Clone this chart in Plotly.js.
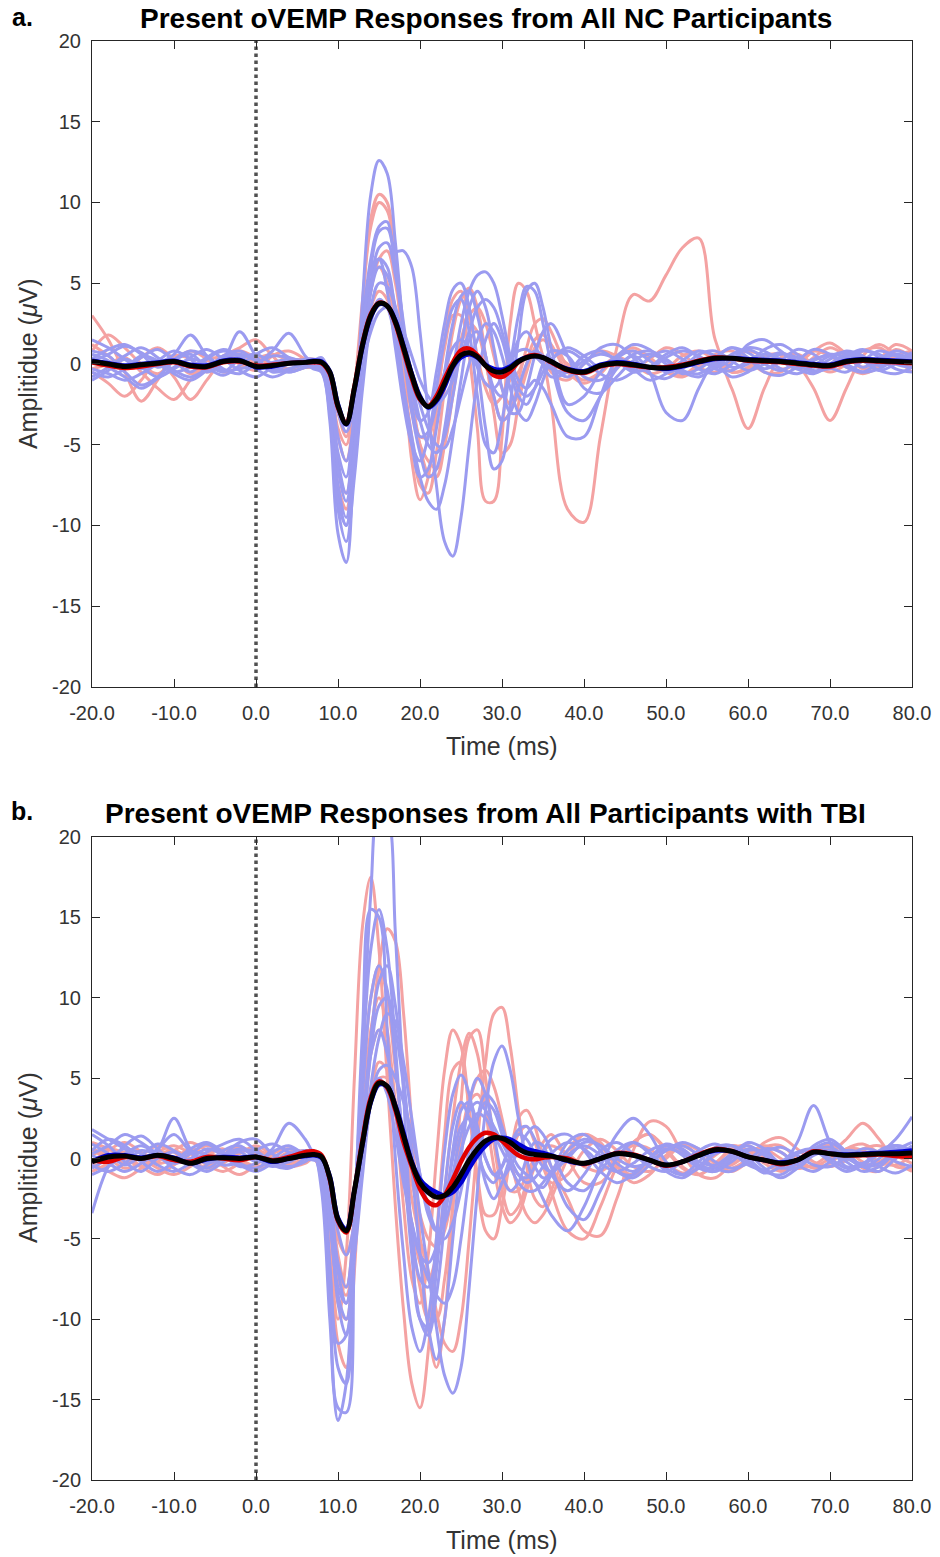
<!DOCTYPE html>
<html>
<head>
<meta charset="utf-8">
<script src="https://cdn.plot.ly/plotly-3.0.1.min.js"></script>
<style>html,body{margin:0;padding:0;background:#fff;}#chart{width:940px;height:1557px;}</style>
</head>
<body>
<div id="chart"></div>
<script>
// Time axis (ms)
const T = [-20,-18,-16,-14,-12,-10,-8,-6,-4,-2,0,2,4,6,
  7,8,9,10,11,12,13,14,15,16,17,18,19,20,21,22,23,24,25,26,27,28,29,30,31,32,33,34,35,36,
  38,40,42,44,46,48,50,52,54,56,58,60,62,64,66,68,70,72,74,76,78,80];

const xTickVals = [-20,-10,0,10,20,30,40,50,60,70,80];
const xTickText = ['-20.0','-10.0','0.0','10.0','20.0','30.0','40.0','50.0','60.0','70.0','80.0'];
const yTickVals = [-20,-15,-10,-5,0,5,10,15,20];
const yTickText = ['-20','-15','-10','-5','0','5','10','15','20'];
const stimX = [0,0];
const stimY = [-20,20];

// Panel a: NC participants, individual responses (light blue)
const ncBlue = [
 [0.8,0.5,-0.3,0.4,0.9,0.2,-0.5,0.3,0.8,0.4,-0.2,0.1,0.3,0.2,
  0.2,-0.2,-3.5,-10.5,-12.3,-5.0,4.0,10.5,12.6,11.8,7.5,2.0,-2.5,-4.5,-4.2,-2.5,-0.5,1.0,1.5,1.0,-0.2,-1.2,-1.5,-0.8,0.2,0.8,0.9,0.5,0.0,-0.3,
  -0.5,0.2,0.6,0.3,-0.4,-0.3,0.4,0.8,0.5,-0.2,0.3,1.0,0.8,0.2,-0.3,0.2,0.6,0.4,-0.2,0.3,0.8,0.5],
 [-0.5,-0.8,-0.3,0.5,0.2,-0.6,-1.0,-0.4,0.3,0.6,0.2,-0.3,-0.5,-0.2,
  0.0,0.3,-2.0,-7.5,-9.5,-4.0,2.5,6.5,8.5,8.8,7.0,7.0,6.0,2.0,-3.0,-7.5,-11.0,-11.9,-9.5,-5.0,-1.0,1.5,2.5,1.5,-0.5,-2.0,-2.5,-1.5,0.0,0.8,
  0.5,-0.8,-1.0,-0.2,0.6,0.8,0.3,-0.4,-0.6,0.0,0.5,0.3,-0.5,-0.7,-0.2,0.3,0.5,0.0,-0.5,-0.3,0.2,0.0],
 [0.3,0.9,1.2,0.6,-0.2,0.3,0.8,0.5,-0.3,-0.6,0.0,0.5,0.4,0.1,
  0.1,0.0,-1.5,-6.0,-8.0,-4.0,1.0,4.5,6.0,5.5,3.5,0.5,-3.0,-5.5,-7.0,-6.5,-4.0,-0.5,2.5,4.5,5.5,5.7,5.0,3.0,0.5,-1.0,-1.5,-1.0,-1.5,-2.5,
  -4.5,-4.5,-2.0,0.3,0.8,0.2,-0.5,-0.2,0.6,0.8,0.2,-0.4,0.0,0.6,0.4,-0.2,0.3,0.8,0.5,-0.1,0.3,0.6],
 [-1.0,-0.4,0.3,-0.2,-0.8,-0.3,0.4,0.9,0.3,-0.4,-0.8,-0.2,0.3,0.0,
  -0.3,-0.5,-2.5,-8.0,-10.0,-6.0,0.5,5.0,7.2,7.5,5.5,2.0,-1.5,-3.5,-3.0,-0.5,2.5,4.6,5.0,3.5,0.0,-4.0,-6.5,-6.0,-2.5,1.5,4.5,5.0,3.5,1.0,
  -2.5,-2.0,-0.5,0.4,-0.3,-1.0,-0.6,0.2,0.8,0.5,-0.2,0.0,0.9,1.2,0.6,-0.1,-0.3,0.3,0.8,0.6,0.0,-0.2],
 [0.6,0.2,-0.5,-1.3,-0.8,0.2,0.6,-0.2,-0.7,-0.1,0.6,1.0,0.4,-0.1,
  0.0,0.2,-1.0,-4.5,-6.0,-3.5,0.5,3.5,5.0,4.8,3.5,1.5,-0.5,-2.5,-4.0,-5.0,-5.2,-4.0,-2.0,0.0,1.5,2.5,2.0,0.5,-1.5,-3.0,-3.5,-2.5,-1.0,0.2,
  1.0,0.5,-0.2,0.5,1.2,0.9,0.0,-0.6,-0.3,0.4,1.0,0.7,0.0,-0.4,0.2,0.9,0.6,-0.2,-0.5,0.1,0.6,0.3],
 [1.5,1.0,0.3,-0.3,0.2,0.8,0.3,-0.5,0.2,2.0,0.5,-0.5,-0.3,0.0,
  0.2,0.4,-1.0,-6.5,-8.5,-5.0,0.0,4.5,6.5,6.0,3.0,-1.5,-5.0,-7.0,-6.5,-4.0,-0.5,2.5,4.2,4.5,3.0,0.5,-2.0,-3.5,-3.0,-1.5,0.0,0.8,0.5,-0.2,
  -0.8,0.0,1.0,1.2,0.4,-0.6,-0.9,-0.3,0.3,0.0,-0.8,-0.5,0.3,0.7,0.2,-0.4,-0.2,0.5,0.9,0.4,-0.3,-0.5],
 [-0.3,-0.6,-1.0,-0.6,0.0,0.6,1.8,0.5,-0.4,-0.3,0.0,0.8,1.9,0.5,
  0.0,-0.3,-1.0,-3.0,-4.2,-2.5,0.0,2.0,3.2,3.5,3.0,2.0,0.5,-1.0,-2.0,-2.5,-2.0,-1.0,0.5,2.0,3.5,4.0,3.5,2.0,0.0,-1.5,-2.0,-1.5,-0.5,0.3,
  0.8,0.2,-0.6,-1.0,-0.5,0.4,0.8,0.3,-0.3,-0.6,0.0,1.2,1.5,0.8,0.0,-0.5,-0.2,0.4,0.2,-0.4,0.0,0.5],
 [0.4,-0.2,-0.8,-1.5,-0.9,-0.2,0.3,0.0,-0.5,0.3,0.6,0.0,-0.5,-0.2,
  -0.2,-0.5,-3.0,-9.0,-11.0,-7.0,-1.5,2.5,4.0,3.5,1.5,-1.5,-4.5,-7.0,-8.5,-9.0,-7.5,-4.5,-1.0,1.5,2.0,0.5,-1.5,-2.0,0.0,3.0,4.8,4.5,2.5,0.0,
  -3.0,-3.5,-2.0,-0.3,0.5,-0.5,-3.0,-3.5,-1.5,0.3,1.0,0.4,-0.3,0.2,0.9,0.6,-0.2,-0.5,0.2,0.8,0.5,0.0],
 [-0.8,-0.2,0.5,1.0,0.4,-0.4,-0.8,-0.3,0.5,0.8,0.2,-0.4,0.0,0.3,
  0.3,0.1,-1.5,-5.5,-7.0,-3.0,2.0,6.0,8.2,8.4,6.0,2.5,-1.0,-3.5,-5.0,-5.5,-4.5,-2.0,1.0,3.5,4.5,3.5,1.0,-1.5,-3.0,-3.0,-1.5,0.5,2.0,2.5,
  0.5,-1.5,-1.8,-0.8,0.2,0.6,0.2,-0.5,-0.8,-0.2,0.6,0.9,0.4,-0.3,-0.6,-0.1,0.5,0.7,0.2,-0.4,-0.6,-0.2],
 [0.2,0.6,1.1,0.7,0.0,-0.5,-0.2,0.4,0.9,0.5,-0.3,-0.8,-0.4,0.2,
  0.1,-0.2,-2.8,-8.5,-10.0,-5.5,1.5,5.8,6.5,4.5,1.0,-2.5,-5.0,-6.0,-4.5,-1.5,1.5,3.5,4.0,2.0,-2.0,-5.0,-5.5,-3.5,-0.5,1.5,2.0,1.2,0.0,-0.8,
  -0.5,0.5,0.8,0.2,-0.5,-0.2,0.6,1.0,0.4,-0.3,-0.4,0.2,0.6,0.3,-0.3,-0.6,0.0,0.6,0.4,-0.1,0.2,0.7]
];

// Panel a: NC participants, individual responses (light red)
const ncRed = [
 [3.0,1.5,-0.5,-2.3,-1.0,0.5,0.3,-0.5,0.2,0.6,0.0,-0.3,0.2,0.3,
  0.3,0.0,-2.5,-7.5,-9.0,-4.0,3.5,9.0,10.5,10.0,6.0,0.0,-6.0,-8.4,-7.0,-3.0,1.5,4.0,4.5,3.0,0.5,-1.5,-2.5,-2.0,-1.0,-0.5,0.5,0.5,0.0,-2.5,
  -9.0,-9.8,-4.5,1.0,4.3,3.9,5.5,7.2,7.8,1.5,-0.5,-0.2,0.5,0.3,-0.3,0.4,1.0,0.5,-0.2,0.3,1.2,0.8],
 [-0.5,-1.2,-2.0,-1.0,0.2,-0.8,-2.2,-1.0,0.3,0.8,0.4,0.0,-0.3,0.0,
  0.2,0.0,-1.0,-4.0,-5.0,-1.5,4.0,8.5,10.0,9.5,6.5,2.0,-2.0,-4.5,-4.5,-2.0,1.0,3.0,3.0,0.5,-4.0,-8.5,-8.5,-4.5,2.5,5.0,4.5,2.5,0.5,-0.5,
  -1.0,0.0,0.8,0.5,-0.2,0.3,1.0,0.6,-0.2,-0.5,0.2,0.8,0.4,-0.3,0.0,0.8,1.3,0.6,-0.3,0.0,0.9,0.4],
 [1.2,0.5,-0.3,0.4,1.0,0.3,-0.6,-0.2,0.5,1.0,1.5,0.5,-0.4,-0.2,
  0.0,0.3,-0.5,-3.0,-4.5,-2.0,2.0,5.0,6.0,5.0,2.5,-1.0,-4.5,-7.5,-8.0,-5.5,-1.5,2.0,4.0,4.7,3.5,0.5,-3.0,-5.5,-5.0,-2.5,0.0,1.5,1.8,1.2,
  -0.5,-1.2,-0.6,0.5,1.0,0.4,-0.4,-0.7,0.0,0.5,-1.5,-4.0,-1.5,0.4,0.6,0.0,-0.5,0.0,0.8,1.0,0.3,-0.5],
 [-0.3,0.0,0.4,-0.5,-1.5,-2.2,-1.0,0.2,0.4,0.0,-0.4,0.5,0.8,0.3,
  0.0,-0.2,-1.2,-4.5,-6.0,-3.0,1.0,3.5,4.5,4.0,2.0,-0.5,-3.0,-5.0,-6.0,-6.5,-5.0,-2.0,1.0,2.5,2.0,0.0,-2.0,-3.5,-3.0,-1.0,1.0,2.5,2.8,2.0,
  -0.2,-1.0,-0.5,0.4,0.0,-0.6,-0.3,0.5,0.8,0.2,-0.5,-0.3,0.5,0.6,0.0,-1.5,-3.5,-1.5,0.5,1.2,0.6,0.0],
 [0.8,1.8,1.0,0.0,-0.6,0.2,0.8,0.3,-0.5,-0.2,0.3,0.6,0.2,-0.2,
  -0.2,-0.3,-2.0,-6.5,-8.0,-4.5,1.0,4.5,6.5,7.0,5.0,1.5,-2.0,-5.0,-6.8,-7.0,-5.0,-1.5,1.5,3.0,3.5,2.5,0.5,-1.5,-2.5,-2.0,-0.5,1.0,1.5,1.0,
  0.0,-0.6,-0.2,0.5,0.8,0.3,-0.5,-0.8,-0.2,0.6,0.8,0.2,-0.5,-0.5,0.2,0.8,0.5,-0.2,-0.6,-0.2,0.5,0.8]
];

// Panel a: grand means
const ncMeanRed = [0.1,-0.1,-0.25,-0.15,0.0,0.1,-0.15,-0.2,0.1,0.15,-0.1,-0.05,0.05,0.1,
  0.1,0.05,-0.6,-2.7,-3.6,-1.4,1.3,3.1,3.8,3.6,2.5,0.8,-0.9,-2.2,-2.6,-2.0,-0.9,0.1,0.85,0.95,0.55,-0.1,-0.7,-0.8,-0.45,0.1,0.45,0.55,0.4,0.1,
  -0.4,-0.55,-0.15,0.0,-0.1,-0.2,-0.2,-0.05,0.2,0.4,0.35,0.2,0.15,0.1,0.0,-0.1,-0.15,0.1,0.2,0.15,0.1,0.05];
const ncMeanBlue = [0.2,0.05,-0.1,0.0,0.1,0.2,-0.05,-0.1,0.2,0.25,-0.2,-0.15,0.05,0.1,
  0.2,0.15,-0.45,-2.5,-3.75,-1.6,1.1,2.9,3.7,3.6,2.7,1.1,-0.6,-2.0,-2.7,-2.3,-1.4,-0.2,0.4,0.6,0.4,-0.05,-0.3,-0.35,-0.15,0.2,0.4,0.5,0.4,0.15,
  -0.3,-0.45,-0.05,0.1,0.0,-0.2,-0.3,-0.15,0.1,0.3,0.35,0.3,0.25,0.2,0.1,0.0,-0.05,0.2,0.3,0.25,0.2,0.15];
const ncMeanAll = [0.15,0.0,-0.15,-0.05,0.05,0.15,-0.1,-0.15,0.15,0.2,-0.15,-0.1,0.05,0.1,
  0.15,0.1,-0.5,-2.6,-3.7,-1.5,1.2,3.0,3.75,3.6,2.6,1.0,-0.7,-2.1,-2.65,-2.2,-1.2,-0.1,0.55,0.7,0.45,-0.1,-0.45,-0.5,-0.25,0.15,0.4,0.5,0.4,0.15,
  -0.35,-0.5,-0.1,0.05,-0.05,-0.2,-0.25,-0.1,0.15,0.35,0.35,0.25,0.2,0.15,0.05,-0.05,-0.1,0.15,0.25,0.2,0.15,0.1];

// Panel b: participants with TBI, individual responses (light blue)
const tbiBlue = [
 [0.5,1.2,0.8,0.0,0.6,1.5,0.4,-0.3,0.2,1.0,1.2,0.3,-0.2,0.4,
  0.2,-1.0,-8.0,-15.5,-15.8,-6.0,6.0,16.5,22.0,21.5,14.0,4.0,-5.0,-10.0,-10.5,-7.0,-2.0,2.0,3.5,2.5,0.5,-1.0,-1.5,-0.5,0.8,1.5,1.2,0.3,-0.5,-0.8,
  0.0,1.0,0.8,-0.3,-0.8,0.0,0.9,0.5,-0.4,-0.6,0.2,1.0,0.6,-0.3,-0.2,0.8,1.2,0.4,-0.5,-0.3,0.5,1.0],
 [-1.0,-0.5,0.3,0.8,0.2,-0.6,-1.0,-0.4,0.5,0.8,0.0,-0.5,-0.2,0.3,
  0.5,-0.5,-6.5,-13.0,-14.0,-4.0,8.0,15.5,15.0,8.0,0.0,-6.0,-10.5,-12.0,-10.0,-5.0,0.5,4.0,5.2,4.0,1.0,-1.5,-2.5,-1.5,0.0,0.8,0.5,-0.5,-1.2,-1.0,
  0.2,0.8,0.2,-0.8,-1.2,-0.4,0.5,0.8,0.2,-0.6,-0.8,-0.1,0.6,0.4,-0.4,-0.8,-0.2,0.5,0.3,-0.5,-0.9,-0.4],
 [-3.4,-0.5,0.8,1.4,0.6,-0.2,0.3,0.9,0.2,-0.5,-0.3,0.4,0.8,0.2,
  0.0,-0.2,-3.0,-9.0,-11.0,-6.0,1.0,6.5,9.5,10.0,8.0,4.5,0.5,-3.5,-7.0,-10.5,-13.5,-14.6,-13.0,-8.0,-2.0,3.0,6.0,7.0,5.5,2.5,0.0,-1.5,-1.8,-1.0,
  1.0,1.5,0.5,-0.8,-1.0,0.0,0.8,0.6,-0.2,-0.4,0.3,0.8,0.2,-0.6,-0.3,0.5,0.7,0.1,-0.5,0.0,0.8,0.5],
 [1.5,0.8,-0.2,-0.8,0.0,0.4,-0.3,-0.8,-0.2,0.5,0.4,-0.4,-0.6,0.0,
  0.3,-2.0,-10.0,-16.3,-14.0,-5.0,4.0,10.0,12.0,10.5,6.0,0.5,-4.5,-7.5,-8.0,-6.0,-3.0,0.0,2.0,2.5,1.5,0.0,-1.0,-1.2,-0.5,0.5,1.5,2.0,1.5,0.5,
  -1.5,-2.0,-0.8,0.5,1.0,0.3,-0.8,-1.2,-0.5,0.4,0.8,0.3,-0.6,-1.2,-0.6,0.3,0.5,-0.2,-0.8,-0.5,0.3,0.6],
 [0.2,-0.3,-0.8,-0.3,0.5,2.5,0.6,-0.2,0.2,0.6,0.1,-0.4,0.2,0.5,
  0.4,0.0,-2.0,-6.5,-8.0,-4.0,2.0,6.5,8.0,6.5,3.0,-1.0,-4.0,-6.0,-6.5,-5.5,-3.5,-1.0,1.5,3.0,3.5,3.0,2.0,1.0,0.0,-1.0,-1.5,-1.2,-0.5,0.3,
  1.0,0.6,-0.3,-0.8,-0.3,0.5,0.8,0.2,-0.6,-0.8,-0.2,0.5,0.4,-0.3,1.0,3.3,1.0,-0.5,-0.3,0.4,0.8,0.4],
 [0.9,0.3,-0.4,0.2,0.9,0.5,-0.2,-0.6,0.0,0.4,-0.2,0.6,2.2,1.2,
  0.3,-0.3,-3.5,-8.5,-10.0,-5.5,1.5,7.5,11.0,12.0,9.5,5.0,-0.5,-6.0,-10.5,-12.5,-10.0,-5.0,0.0,3.5,5.0,4.0,1.5,-1.0,-2.0,-1.5,0.0,1.0,0.8,-0.5,
  -3.0,-3.8,-2.0,0.0,1.0,0.4,-0.6,-1.0,-0.2,0.7,0.8,0.0,-0.8,-1.0,-0.3,0.6,1.0,0.3,-0.5,-0.8,0.0,0.8],
 [1.8,1.2,0.6,-0.2,-0.8,-0.2,0.6,1.0,0.4,-0.3,-0.6,0.0,0.6,0.3,
  0.0,-0.4,-2.5,-7.0,-9.0,-6.0,-1.0,3.5,5.5,5.8,5.0,3.5,1.5,-1.0,-3.0,-4.5,-5.0,-4.0,-2.0,0.5,2.5,3.5,3.0,1.5,0.0,-1.0,-1.2,-0.5,0.5,1.2,
  1.5,0.5,-0.8,-1.5,-1.0,0.0,0.6,0.3,-0.5,-0.8,0.0,0.6,0.3,-0.5,-0.6,0.2,0.5,0.0,-0.3,0.3,1.2,2.6],
 [-0.6,0.0,0.6,0.3,-0.4,-0.8,-0.3,0.4,0.9,1.2,0.5,-0.2,-0.5,-0.2,
  0.2,-1.5,-7.0,-11.5,-11.0,-3.0,6.0,13.0,15.5,13.0,7.0,0.0,-6.0,-10.0,-11.0,-8.5,-4.0,0.5,3.0,3.5,2.0,0.0,-1.0,-0.5,0.8,1.8,2.0,1.2,0.0,-1.0,
  -2.0,-1.0,0.5,1.0,0.3,-0.5,-0.8,-0.2,0.5,0.9,0.4,-0.4,-0.7,-0.2,0.4,0.6,0.0,-0.6,-0.4,0.3,0.6,0.2],
 [0.3,0.8,1.5,1.0,0.3,0.0,0.4,0.2,-0.4,-0.2,0.5,0.9,0.4,0.0,
  -0.1,-0.3,-1.5,-4.5,-6.0,-4.0,0.5,4.5,7.5,9.0,8.5,6.0,2.5,-1.0,-3.5,-4.5,-4.0,-2.0,0.5,2.0,2.8,2.5,1.5,0.5,-0.5,-1.5,-2.0,-2.0,-1.5,-0.8,
  0.5,1.2,0.8,0.0,-0.5,-0.2,0.5,1.0,0.6,-0.2,-0.6,-0.3,0.4,0.7,0.2,-0.4,-0.5,0.1,0.6,0.4,-0.2,-0.5],
 [-0.4,-0.8,-0.3,0.5,0.2,-0.3,0.0,0.6,0.2,-0.4,-0.8,-0.3,0.3,0.4,
  0.2,-0.5,-4.0,-8.0,-9.0,-5.0,0.0,3.5,5.0,4.0,1.5,-1.5,-4.0,-6.0,-7.5,-8.5,-9.0,-8.0,-5.0,-1.0,2.5,4.0,3.5,2.0,0.5,-0.5,-1.0,-1.5,-2.5,-3.5,
  -4.5,-3.0,-0.5,1.5,2.5,1.5,-0.2,-1.0,-0.6,0.3,0.5,-0.2,-0.9,-0.5,0.3,0.5,-0.2,-0.8,-0.4,0.5,0.8,0.2]
];

// Panel b: participants with TBI, individual responses (light red)
const tbiRed = [
 [-0.8,-0.3,0.4,0.0,-0.6,-1.0,-0.5,0.2,0.6,0.0,-0.5,-0.2,0.3,0.5,
  0.3,-1.0,-6.0,-10.0,-6.0,5.0,14.5,17.5,13.0,5.0,-3.0,-9.5,-14.0,-15.5,-12.0,-5.0,1.5,5.5,6.0,3.0,-1.0,-3.5,-3.5,-2.0,0.0,1.5,2.0,1.0,-0.5,-1.5,
  -1.0,0.5,1.2,0.5,-0.5,-0.8,0.0,0.8,0.6,-0.3,-0.8,-0.2,0.7,0.8,0.0,-0.6,-0.3,0.6,0.9,0.3,-0.5,-0.6],
 [0.5,0.0,-0.6,-0.3,0.4,0.8,0.3,-0.4,-0.8,-0.3,0.4,0.2,-0.3,0.0,
  0.2,0.0,-2.0,-6.0,-8.0,-5.0,1.0,7.0,12.0,14.3,13.5,9.0,2.0,-5.0,-10.5,-13.0,-10.0,-3.0,3.5,7.5,8.0,5.0,1.0,-2.0,-3.5,-3.0,-1.5,0.0,1.0,1.5,
  0.0,-1.5,-1.5,-0.3,1.0,1.5,0.6,-0.5,-1.0,-0.3,0.5,0.8,0.2,-0.5,-0.4,0.3,0.8,0.5,-0.2,-0.5,0.2,0.6],
 [-0.2,0.5,1.0,0.4,-0.3,0.0,0.6,0.2,-0.5,-1.0,-0.4,0.3,0.6,0.2,
  0.0,-0.5,-4.0,-9.0,-10.0,-4.0,4.0,10.0,12.0,10.0,5.5,1.0,-2.5,-5.0,-7.0,-9.5,-11.5,-12.0,-10.0,-5.0,1.0,6.0,9.0,9.4,7.0,3.0,-0.5,-2.5,-3.0,-2.0,
  0.5,1.5,0.8,-0.5,-1.0,-0.3,0.5,0.8,0.2,-0.5,-0.4,0.3,0.8,0.4,-0.3,-0.5,0.0,0.6,0.5,-0.2,-0.4,0.2],
 [1.0,0.6,0.0,-0.5,-0.2,0.5,1.0,0.5,0.0,0.3,0.8,0.2,-0.5,-0.3,
  0.0,-1.0,-6.0,-11.5,-13.0,-7.0,2.0,8.0,10.0,8.0,3.0,-3.0,-7.5,-9.0,-6.0,0.0,5.5,8.0,7.0,3.0,-1.5,-4.5,-5.0,-3.0,0.0,2.5,3.0,2.0,0.0,-2.0,
  -4.5,-5.0,-3.0,-0.5,1.0,1.5,0.5,-0.6,-1.0,-0.3,0.6,0.8,0.0,-0.7,-0.5,0.4,0.9,0.3,-0.6,-0.8,0.0,0.7],
 [-0.3,-0.8,-1.2,-0.6,0.2,0.5,0.0,-0.6,-0.3,0.4,0.6,0.0,-0.4,0.0,
  0.1,-0.3,-3.0,-7.0,-8.0,-3.5,2.5,6.5,8.0,7.0,3.5,-1.0,-5.0,-8.0,-10.0,-10.0,-7.5,-3.0,1.0,3.5,4.0,3.0,1.0,-1.0,-2.0,-2.0,-1.0,0.0,0.3,-0.5,
  -2.5,-4.5,-4.8,-2.5,0.5,2.3,2.0,0.3,-1.0,-1.2,-0.3,0.5,0.6,0.0,-0.6,-0.4,0.3,1.2,2.2,1.2,-0.2,-0.8],
 [0.2,0.6,0.3,-0.5,-1.0,-0.4,0.3,0.8,0.4,-0.2,-0.6,-0.2,0.4,0.3,
  0.0,-0.5,-3.5,-7.5,-8.5,-5.5,-0.5,4.0,6.0,5.5,3.0,-0.5,-4.0,-6.5,-7.5,-6.0,-2.0,2.5,6.0,7.8,6.5,3.0,-0.5,-3.0,-4.0,-3.5,-2.0,-0.5,0.5,0.8,
  0.3,-0.5,-0.8,0.0,0.8,0.6,-0.3,-0.9,-0.6,0.2,0.8,0.5,-0.3,-0.8,-0.4,0.3,0.6,0.2,-0.4,-0.2,0.4,0.3],
 [0.6,0.2,-0.3,0.2,0.8,0.4,-0.3,-0.5,0.2,0.7,0.3,-0.3,-0.2,0.2,
  0.2,0.0,-2.0,-5.0,-6.0,-4.0,0.0,3.5,5.0,5.0,3.5,1.0,-1.5,-3.5,-5.0,-5.5,-4.5,-2.0,1.0,3.5,5.0,5.5,4.5,2.5,0.0,-2.0,-3.5,-4.0,-3.5,-2.5,
  0.0,1.5,1.0,-0.5,-1.5,-1.0,0.2,0.9,0.5,-0.3,-0.6,0.0,1.0,1.3,0.6,-0.2,-0.5,-0.1,0.6,0.8,0.2,-0.3]
];

// Panel b: grand means
const tbiMeanRed = [-0.1,-0.2,0.1,0.0,0.15,-0.1,-0.2,0.1,0.0,-0.1,0.1,-0.1,0.1,0.4,
  0.45,0.2,-1.3,-3.9,-4.6,-2.0,1.2,3.8,4.8,4.4,3.0,1.0,-0.5,-1.9,-2.7,-2.9,-2.3,-1.3,-0.2,0.7,1.3,1.6,1.5,1.1,0.6,0.2,0.0,-0.05,0.05,0.1,
  0.0,-0.35,0.0,0.35,0.25,-0.1,-0.45,-0.2,0.25,0.6,0.45,0.1,-0.1,-0.35,-0.1,0.45,0.3,0.2,0.2,0.25,0.15,0.1];
const tbiMeanBlue = [-0.2,0.2,0.2,0.05,0.2,0.05,-0.3,-0.05,0.1,0.05,0.1,-0.2,0.0,0.15,
  0.2,0.05,-1.1,-3.7,-4.4,-2.0,0.9,3.5,4.6,4.5,3.3,1.6,-0.2,-1.3,-1.8,-2.1,-2.3,-2.1,-1.5,-0.6,0.2,0.8,1.2,1.3,1.2,0.9,0.6,0.45,0.35,0.2,
  -0.15,-0.3,0.0,0.3,0.2,-0.1,-0.4,-0.2,0.2,0.5,0.45,0.1,-0.1,-0.25,-0.1,0.4,0.3,0.25,0.3,0.35,0.4,0.5];
const tbiMeanAll = [-0.2,0.1,0.15,0.0,0.2,0.0,-0.3,0.0,0.05,0.0,0.1,-0.15,0.0,0.2,
  0.25,0.1,-1.2,-3.8,-4.5,-2.0,1.0,3.6,4.7,4.5,3.2,1.4,-0.3,-1.5,-2.1,-2.4,-2.3,-1.8,-1.0,-0.1,0.6,1.1,1.3,1.25,1.0,0.6,0.35,0.25,0.2,0.15,
  -0.1,-0.3,0.0,0.3,0.2,-0.1,-0.4,-0.2,0.2,0.55,0.45,0.1,-0.1,-0.3,-0.1,0.4,0.3,0.2,0.25,0.3,0.3,0.35];

// ---------- drawing ----------
const FONT = 'Liberation Sans, Arial, Helvetica, sans-serif';
const LIGHT_BLUE = 'rgb(155,155,240)';
const LIGHT_RED = 'rgb(244,162,162)';

function line(y, color, width, xa, ya) {
  return {x: T, y: y, type: 'scatter', mode: 'lines', xaxis: xa, yaxis: ya,
    line: {color: color, width: width, shape: 'spline', smoothing: 1}, hoverinfo: 'skip'};
}

const traces = [];
function panel(red, blue, mRed, mBlue, mAll, xa, ya) {
  red.forEach(y => traces.push(line(y, LIGHT_RED, 3, xa, ya)));
  blue.forEach(y => traces.push(line(y, LIGHT_BLUE, 3, xa, ya)));
  traces.push({x: stimX, y: stimY, type: 'scatter', mode: 'lines', xaxis: xa, yaxis: ya,
    line: {color: '#505050', width: 3.5, dash: 'dot'}, hoverinfo: 'skip'});
  traces.push(line(mRed, 'rgb(225,0,0)', 4.5, xa, ya));
  traces.push(line(mBlue, 'rgb(0,0,210)', 4.5, xa, ya));
  traces.push(line(mAll, '#000000', 5, xa, ya));
}
panel(ncRed, ncBlue, ncMeanRed, ncMeanBlue, ncMeanAll, 'x', 'y');
panel(tbiRed, tbiBlue, tbiMeanRed, tbiMeanBlue, tbiMeanAll, 'x2', 'y2');

function xax(anchor) {
  return {anchor: anchor, domain: [0, 1], range: [-20, 80], tickmode: 'array',
    tickvals: xTickVals, ticktext: xTickText, ticks: 'inside', ticklen: 8, tickwidth: 1,
    tickcolor: '#262626', showline: true, linecolor: '#262626', linewidth: 1, mirror: 'ticks',
    showgrid: false, zeroline: false, ticklabelstandoff: 8,
    tickfont: {family: FONT, size: 20, color: '#333333'}};
}
function yax(anchor, domain) {
  return {anchor: anchor, domain: domain, range: [-20, 20], tickmode: 'array',
    tickvals: yTickVals, ticktext: yTickText, ticks: 'inside', ticklen: 8, tickwidth: 1,
    tickcolor: '#262626', showline: true, linecolor: '#262626', linewidth: 1, mirror: 'ticks',
    showgrid: false, zeroline: false, ticklabelstandoff: 6,
    tickfont: {family: FONT, size: 20, color: '#333333'}};
}

function ann(text, x, y, size, bold, extra) {
  return Object.assign({text: text, x: x, y: y, xref: 'paper', yref: 'paper', showarrow: false,
    xanchor: 'center', yanchor: 'middle',
    font: {family: FONT, size: size, color: bold ? '#000' : '#333333', weight: bold ? 'bold' : 'normal'}}, extra || {});
}

const layout = {
  width: 940, height: 1557, paper_bgcolor: '#fff', plot_bgcolor: '#fff',
  margin: {l: 92, r: 28, t: 41, b: 77},
  showlegend: false,
  font: {family: FONT, color: '#262626'},
  xaxis: xax('y'), yaxis: yax('x', [0.5511, 1]),
  xaxis2: xax('y2'), yaxis2: yax('x2', [0, 0.4468]),
  annotations: [
    ann('Present oVEMP Responses from All NC Participants', 0.48, 1.0153, 28, true),
    ann('Present oVEMP Responses from All Participants with TBI', 0.48, 0.4635, 28, true),
    ann('a.', -0.085, 1.0167, 25, true),
    ann('b.', -0.085, 0.4649, 25, true),
    ann('Time (ms)', 0.5, 0.5101, 25, false),
    ann('Time (ms)', 0.5, -0.0417, 25, false),
    ann('Amplitidue (<i>\u03bc</i>V)', -0.078, 0.7755, 25, false, {textangle: -90}),
    ann('Amplitidue (<i>\u03bc</i>V)', -0.078, 0.2238, 25, false, {textangle: -90})
  ]
};

Plotly.newPlot('chart', traces, layout, {staticPlot: true, displayModeBar: false});
</script>
</body>
</html>
